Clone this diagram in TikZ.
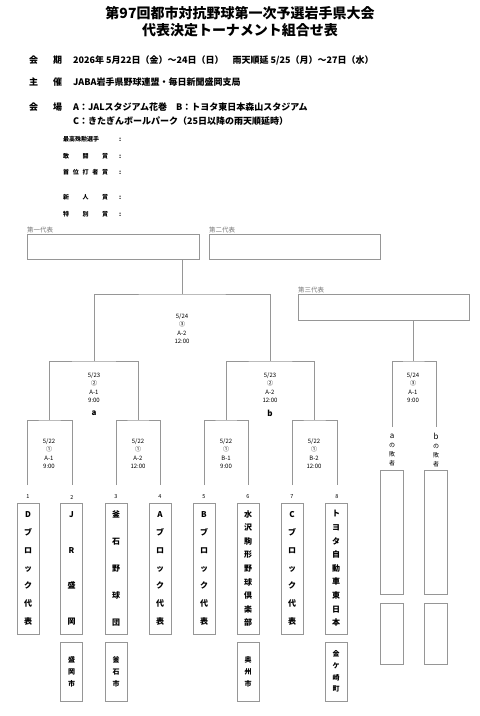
\documentclass[tikz,border=0pt]{standalone}
\usepackage{fontspec}
\setmainfont{Noto Sans CJK JP}
\definecolor{linegray}{RGB}{150,150,150}
\definecolor{lblgray}{RGB}{120,120,120}
\usetikzlibrary{positioning}

\begin{document}
\begin{tikzpicture}[x=1pt, y=-1pt,
    title/.style={font=\bfseries\fontsize{14}{16}\selectfont, inner sep=0pt},
    infohead/.style={anchor=west, font=\bfseries\fontsize{9}{11}\selectfont, inner sep=0pt},
    info/.style={anchor=west, font=\bfseries\fontsize{9}{11}\selectfont, inner sep=0pt},
    award/.style={anchor=west, font=\bfseries\fontsize{6}{7}\selectfont, inner sep=0pt},
    repbox/.style={rectangle, draw=linegray, line width=0.9pt, minimum width=172pt,
                   minimum height=25pt, inner sep=0pt},
    replbl/.style={font=\fontsize{6.5}{7}\selectfont, text=lblgray, inner sep=0.3pt},
    bracket/.style={draw=linegray, line width=0.8pt},
    matchlbl/.style={align=center, font=\fontsize{6}{8.5}\selectfont, inner sep=0pt},
    winner/.style={font=\bfseries\fontsize{8}{9}\selectfont, inner sep=0pt},
    num/.style={font=\fontsize{5.5}{6}\selectfont, inner sep=0pt},
    team/.style={rectangle, draw=linegray, line width=0.9pt, minimum width=22pt,
                 minimum height=131pt, inner sep=0pt, align=center,
                 font=\bfseries\fontsize{8}{#1}\selectfont},
    city/.style={rectangle, draw=linegray, line width=0.9pt, minimum width=22pt,
                 minimum height=59pt, inner sep=0pt, align=center,
                 font=\bfseries\fontsize{7}{12}\selectfont},
    loser/.style={align=center, font=\fontsize{6}{9}\selectfont, inner sep=0pt},
    slot/.style={rectangle, draw=linegray, line width=0.9pt, minimum width=23pt,
                 minimum height=#1, inner sep=0pt}
  ]
    \useasboundingbox (0,0) rectangle (480,716);

    % Title
    \node[title] (title1) at (240,13) {第97回都市対抗野球第一次予選岩手県大会};
    \node[title] (title2) at (240,30) {代表決定トーナメント組合せ表};

    % Dates, organisers, grounds
    \node[infohead] (h1) at (29,60) {会\hspace{15pt}期};
    \node[info] (v1) at (73,60) {2026年 5月22日（金）～24日（日）　雨天順延 5/25（月）～27日（水）};
    \node[infohead] (h2) at (29,82) {主\hspace{15pt}催};
    \node[info] (v2) at (73,82) {JABA岩手県野球連盟・毎日新聞盛岡支局};
    \node[infohead] (h3) at (29,107) {会\hspace{15pt}場};
    \node[info] (v3) at (73,107) {A：JALスタジアム花巻　B：トヨタ東日本森山スタジアム};
    \node[info] (v4) at (73,121) {C：きたぎんボールパーク（25日以降の雨天順延時）};

    % Awards
    \node[award] (aw1) at (63,139) {\makebox[56pt][l]{最高殊勲選手}:};
    \node[award] (aw2) at (63,156) {\makebox[56pt][l]{\makebox[45pt][s]{敢\hfill 闘\hfill 賞}}:};
    \node[award] (aw3) at (63,172) {\makebox[56pt][l]{\makebox[45pt][s]{首\hfill 位\hfill 打\hfill 者\hfill 賞}}:};
    \node[award] (aw4) at (63,197) {\makebox[56pt][l]{\makebox[45pt][s]{新\hfill 人\hfill 賞}}:};
    \node[award] (aw5) at (63,214) {\makebox[56pt][l]{\makebox[45pt][s]{特\hfill 別\hfill 賞}}:};

    % Representative boxes
    \node[repbox] (rep1) at (113,246.5) {};
    \node[repbox, minimum width=171pt] (rep2) at (294.5,246.5) {};
    \node[repbox, minimum width=171pt, minimum height=26pt] (rep3) at (383.5,307) {};
    \node[replbl, above right=0pt of rep1.north west] (rl1) {第一代表};
    \node[replbl, above right=0pt of rep2.north west] (rl2) {第二代表};
    \node[replbl, above right=0pt of rep3.north west] (rl3) {第三代表};

    % Bracket points
    \coordinate (f)  at (182,294);
    \coordinate (s1) at (94,361);
    \coordinate (s2) at (270.5,361);
    \coordinate (r1) at (49.5,420);
    \coordinate (r2) at (138,420);
    \coordinate (r3) at (226,420);
    \coordinate (r4) at (314.5,420);
    \coordinate (t3) at (413,361);
    \coordinate (l1) at (392,427);
    \coordinate (l2) at (436,427);
    \foreach \i/\x in {1/27,2/72,3/116,4/160,5/204,6/248,7/292,8/337}
      \coordinate (e\i) at (\x,485);

    % Bracket lines
    \draw[bracket] (e1) |- (r1) -| (e2);
    \draw[bracket] (e3) |- (r2) -| (e4);
    \draw[bracket] (e5) |- (r3) -| (e6);
    \draw[bracket] (e7) |- (r4) -| (e8);
    \draw[bracket] (r1) |- (s1) -| (r2);
    \draw[bracket] (r3) |- (s2) -| (r4);
    \draw[bracket] (s1) |- (f) -| (s2);
    \draw[bracket] (f) -- (rep1.south -| f);
    \draw[bracket] (l1) |- (t3) -| (l2);
    \draw[bracket] (t3) -- (rep3.south -| t3);

    % Match labels
    \node[matchlbl] (lf)  at (182,328.5) {5/24\\③\\A-2\\12:00};
    \node[matchlbl] (ls1) at (94,387.5)  {5/23\\②\\A-1\\9:00};
    \node[matchlbl] (ls2) at (270,387.5) {5/23\\②\\A-2\\12:00};
    \node[matchlbl] (lt3) at (413,387.5) {5/24\\③\\A-1\\9:00};
    \node[winner] (wa) at (94,413) {a};
    \node[winner] (wb) at (270,413) {b};
    \node[matchlbl] (lr1) at (49,453.5)  {5/22\\①\\A-1\\9:00};
    \node[matchlbl] (lr2) at (138,453.5) {5/22\\①\\A-2\\12:00};
    \node[matchlbl] (lr3) at (226,453.5) {5/22\\①\\B-1\\9:00};
    \node[matchlbl] (lr4) at (314,453.5) {5/22\\①\\B-2\\12:00};

    % Draw numbers
    \foreach \i/\x in {1/28,2/72,3/116,4/160,5/204,6/248,7/292,8/337}
      \node[num] (n\i) at (\x,497) {\i};

    % Teams
    \node[team=17.8] (t1) at (28,568.5)  {D\\ブ\\ロ\\ッ\\ク\\代\\表};
    \node[team=35.7] (t2) at (71.5,568.5) {J\\R\\盛\\岡};
    \node[team=27.2] (t3box) at (116,568.5) {釜\\石\\野\\球\\団};
    \node[team=17.8] (t4) at (160,568.5) {A\\ブ\\ロ\\ッ\\ク\\代\\表};
    \node[team=17.8] (t5) at (204,568.5) {B\\ブ\\ロ\\ッ\\ク\\代\\表};
    \node[team=13.6] (t6) at (248,568.5) {水\\沢\\駒\\形\\野\\球\\倶\\楽\\部};
    \node[team=17.8] (t7) at (292,568.5) {C\\ブ\\ロ\\ッ\\ク\\代\\表};
    \node[team=13.6] (t8) at (336,568.5) {ト\\ヨ\\タ\\自\\動\\車\\東\\日\\本};

    % Home towns
    \node[city] (c2) at (71.5,671.5) {盛\\岡\\市};
    \node[city] (c3) at (116,671.5)  {釜\\石\\市};
    \node[city] (c6) at (248,671.5)  {奥\\州\\市};
    \node[city, font=\bfseries\fontsize{7}{11.7}\selectfont] (c8) at (336,671.5) {金\\ケ\\崎\\町};

    % Third place slots
    \node[loser] (la) at (392,450.5) {{\fontsize{8}{9}\selectfont a}\\の\\敗\\者};
    \node[loser] (lb) at (436,450.5) {{\fontsize{8}{9}\selectfont b}\\の\\敗\\者};
    \node[slot=124pt] (sa1) at (391.5,532) {};
    \node[slot=61pt]  (sa2) at (391.5,633.5) {};
    \node[slot=124pt] (sb1) at (436,532) {};
    \node[slot=61pt]  (sb2) at (436,633.5) {};
  \end{tikzpicture}
\end{document}
